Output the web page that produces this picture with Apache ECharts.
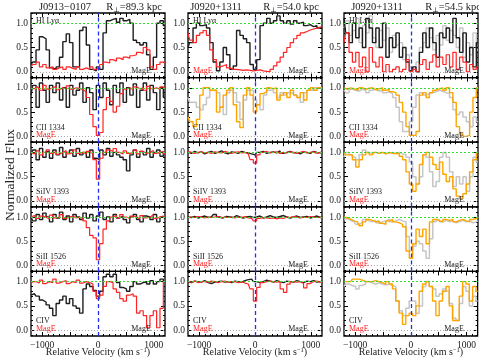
<!DOCTYPE html>
<html>
<head>
<meta charset="utf-8">
<script src="https://cdn.jsdelivr.net/npm/echarts@6/dist/echarts.min.js"></script>
<style>
  html, body { margin: 0; padding: 0; background: #fff; }
  #chart { width: 479px; height: 364px; }
</style>
</head>
<body>
<div id="chart"></div>
<script>
// velocity grid (km/s), shared by every spectrum
const vel = [-1200,-1140,-1080,-1020,-960,-900,-840,-780,-720,-660,-600,-540,-480,-420,-360,-300,-240,-180,-120,-60,0,60,120,180,240,300,360,420,480,540,600,660,720,780,840,900,960,1020,1080,1140,1200];

// J0913-0107, R=89.3 kpc
const hi1Black = [0.15,0.2,0.45,0.72,0.68,0.45,0.08,0.05,0.1,0.3,0.62,0.78,0.6,0.1,0.1,0.85,0.92,0.55,0.05,0.02,0.1,0.05,0.8,1.05,1.08,1.1,1.02,1.1,1.05,1.08,1.0,0.65,0.6,0.55,0.6,0.35,0.05,0.3,1.0,1.05,0.95];
const hi1Red = [0.1,0.15,0.2,0.1,0.15,0.08,0.1,0.05,0.08,0.1,0.05,0.1,0.07,0.05,0.1,0.05,0.08,0.05,0.1,0.05,0.08,0.15,0.2,0.18,0.25,0.22,0.28,0.25,0.3,0.28,0.33,0.35,0.4,0.38,0.5,0.45,0.1,0.05,0.15,0.2,0.18];
const cii1Black = [0.85,1.05,0.6,1.1,0.95,0.7,1.05,0.9,1.1,0.75,1.0,0.6,1.05,0.85,0.95,1.1,0.7,1.0,0.9,0.55,1.05,0.8,1.1,0.95,0.65,1.05,0.9,1.1,0.7,1.0,0.85,1.08,0.6,0.95,1.1,0.75,1.05,0.9,0.55,1.0,0.8];
const cii1Red = [1.0,0.98,1.02,0.95,1.05,0.97,1.0,1.03,0.96,1.0,0.98,1.04,0.97,1.0,0.99,0.96,0.92,0.8,0.45,0.2,0.02,0.08,0.55,0.8,0.72,0.5,0.62,0.88,0.97,1.0,0.96,1.02,0.98,1.0,0.95,1.03,0.98,1.0,0.97,1.02,0.99];
const siiv1Black = [0.95,1.05,0.85,1.08,0.9,1.02,0.88,1.05,0.95,1.1,0.9,1.0,1.05,0.92,1.08,0.95,1.0,0.9,1.05,0.88,0.85,1.05,0.95,1.08,0.92,1.0,0.95,0.9,0.85,0.62,0.95,1.05,0.9,1.02,0.95,1.08,0.9,1.0,1.05,0.92,1.0];
const siiv1Red = [1.0,0.97,1.03,0.95,1.0,1.05,0.98,1.02,0.96,1.0,1.04,0.97,1.0,1.05,0.98,1.0,0.97,1.02,0.98,0.85,0.45,0.88,1.0,1.05,1.02,1.08,1.0,0.97,1.03,0.98,1.0,1.05,0.97,1.02,0.98,1.0,1.04,0.98,1.0,1.02,0.97];
const sii1Black = [1.0,0.92,1.05,0.95,1.08,1.0,0.9,1.05,0.98,1.1,0.95,1.02,0.9,1.05,1.0,0.95,1.08,0.98,1.05,0.92,1.02,1.1,0.95,1.0,0.9,1.05,0.98,1.02,0.95,0.88,1.0,1.05,0.95,0.9,1.02,1.0,0.95,1.05,0.9,1.0,0.97];
const sii1Red = [1.0,1.03,0.97,1.02,1.0,0.96,1.04,0.98,1.0,1.05,0.97,1.0,1.02,0.98,1.0,0.97,0.92,0.78,0.62,0.57,0.12,0.45,0.75,0.92,1.0,1.03,0.98,1.05,1.0,0.97,1.02,1.0,0.96,1.03,0.98,1.0,1.04,0.97,1.0,1.02,0.98];
const civ1Black = [0.72,0.75,0.7,0.62,0.58,0.52,0.45,0.3,0.55,0.62,0.7,0.55,0.65,0.5,0.45,0.35,0.85,0.95,0.9,0.82,0.7,0.8,1.1,1.15,1.1,1.15,0.98,0.88,0.85,0.8,0.9,1.0,0.95,0.98,1.0,0.95,1.02,0.95,1.0,1.05,1.0];
const civ1Red = [0.95,1.0,0.97,1.03,0.96,1.0,0.98,1.05,0.97,1.0,1.02,0.96,1.0,0.98,1.03,0.97,1.0,0.98,0.95,0.8,0.65,0.72,0.9,1.0,0.98,0.85,0.78,0.65,0.6,0.72,0.75,0.7,0.35,0.4,0.3,0.05,0.3,0.4,0.05,0.45,1.0];

// J0920+1311, R=54.0 kpc
const hi2Black = [0.5,0.6,0.9,1.0,0.95,0.97,0.9,0.6,0.2,0.02,0.2,0.5,0.35,0.05,0.12,0.85,0.75,0.68,0.6,0.15,0.05,0.25,0.95,1.0,1.1,1.0,1.05,1.15,1.05,1.0,1.05,0.98,1.05,1.0,1.02,0.95,0.97,0.93,0.95,0.9,0.92];
const hi2Red = [0.8,0.65,0.6,0.75,0.8,0.85,0.75,0.45,0.25,0.1,0.12,0.15,0.08,0.05,0.05,0.04,0.03,0.04,0.03,0.02,0.03,0.04,0.02,0.01,0.0,0.05,0.12,0.2,0.3,0.4,0.5,0.6,0.68,0.75,0.8,0.83,0.86,0.88,0.9,0.92,0.93];
const cii2Orange = [0.4,0.3,0.2,0.35,0.85,1.0,1.0,0.95,0.95,0.5,0.6,0.85,0.95,1.0,0.65,0.3,0.18,0.85,1.0,0.85,0.5,0.65,0.88,0.92,1.0,0.98,1.0,0.75,0.85,0.9,0.8,0.95,0.85,0.8,0.9,0.75,0.95,1.0,0.95,1.0,1.0];
const cii2Grey = [0.8,0.7,0.7,0.6,0.55,0.65,0.8,0.95,0.95,0.9,0.6,0.45,0.9,0.95,0.9,0.7,0.35,0.75,0.95,0.95,0.75,0.65,0.55,0.85,0.95,0.95,0.9,0.8,0.9,0.85,0.9,0.9,0.85,0.8,0.7,0.9,0.95,0.95,1.0,1.0,0.98];
const siiv2Black = [1.0,0.98,1.02,0.99,1.01,0.97,1.0,1.02,0.98,1.0,1.03,0.99,0.97,1.01,1.0,0.98,1.02,1.0,0.99,0.97,0.95,1.0,1.02,0.98,1.0,1.01,0.99,1.03,0.98,1.0,1.02,0.99,1.0,0.97,1.01,1.0,0.98,1.02,1.0,0.99,1.01];
const siiv2Red = [1.02,1.0,0.98,1.0,1.01,0.99,1.0,0.98,1.01,1.0,0.99,1.02,1.0,0.98,1.0,1.01,0.99,1.0,0.97,0.85,0.78,0.95,1.0,1.02,0.99,1.0,1.01,0.98,1.0,0.99,1.01,1.0,0.98,1.0,1.02,0.99,1.0,1.01,0.98,1.0,0.99];
const sii2Black = [1.0,0.99,1.01,0.98,1.0,1.02,0.99,1.0,1.05,1.0,0.98,1.01,1.0,0.99,1.03,1.0,0.98,1.0,1.01,0.99,1.0,1.02,0.98,1.0,1.03,1.0,0.99,1.01,1.03,1.0,0.98,1.0,1.02,0.99,1.0,1.01,0.98,1.0,1.02,0.99,1.0];
const sii2Red = [0.98,1.0,0.99,1.01,1.0,0.98,1.0,0.99,1.0,1.01,0.98,1.0,0.99,1.0,0.98,1.0,0.99,1.01,0.98,0.97,0.92,0.97,0.99,0.98,0.97,0.98,0.96,0.98,0.97,1.0,0.99,1.01,1.0,0.98,1.0,0.99,1.01,1.0,0.99,1.0,0.98];
const civ2Black = [1.0,0.98,1.01,1.0,0.99,1.02,0.98,0.96,0.99,1.0,1.01,0.99,1.0,0.98,1.01,1.0,0.99,1.02,1.04,1.05,1.0,0.98,1.0,1.03,1.01,0.99,1.02,1.0,0.98,1.01,1.0,0.99,1.02,1.0,0.98,1.01,1.0,1.02,0.99,1.0,1.01];
const civ2Red = [1.0,0.99,1.01,0.98,1.0,1.0,0.99,1.01,1.0,0.98,1.0,1.01,0.99,1.0,1.0,0.98,1.0,0.97,0.95,0.85,0.6,0.88,0.98,1.0,1.01,1.0,0.99,1.0,0.85,0.78,0.95,1.0,0.99,1.0,0.96,0.87,0.96,1.0,1.01,0.99,1.0];

// J0920+1311, R=54.5 kpc
const hi3Black = [1.1,0.8,0.6,1.0,0.7,0.9,0.5,1.1,0.9,0.6,0.9,0.5,1.0,0.3,0.7,0.5,0.8,0.3,0.5,0.2,0.02,0.1,0.0,0.4,0.8,0.5,0.9,0.6,0.3,0.8,0.7,0.9,0.6,1.1,0.7,0.4,0.8,0.2,0.5,0.1,0.6];
const hi3Grey = [0.9,1.05,0.75,0.85,1.1,0.6,0.95,0.8,1.15,0.7,0.5,0.85,0.65,0.9,0.4,0.75,0.55,0.6,0.25,0.35,0.1,0.05,0.2,0.5,0.6,0.9,0.7,0.45,0.75,0.55,0.95,0.65,0.85,0.75,0.5,0.9,0.3,0.6,0.35,0.8,0.45];
const hi3Red = [0.6,0.8,0.4,0.2,0.4,0.1,0.3,0.0,0.5,0.2,0.1,0.3,0.0,0.15,0.0,0.05,0.1,0.0,0.05,0.25,0.0,0.05,0.0,0.15,0.25,0.05,0.2,0.35,0.1,0.3,0.15,0.35,0.1,0.4,0.05,0.3,0.2,0.0,0.15,0.05,0.1];
const cii3Orange = [1.0,0.97,1.0,0.98,0.95,1.0,0.97,0.99,1.0,0.96,0.98,1.0,0.95,0.97,0.92,0.9,0.85,0.7,0.5,0.2,0.02,0.02,0.1,0.85,0.9,0.8,0.9,0.95,0.98,1.0,0.95,1.0,0.9,0.7,0.2,0.05,0.0,0.02,0.5,0.8,1.0];
const cii3Grey = [0.95,0.9,0.97,0.95,0.93,0.97,0.95,0.9,0.95,0.97,0.93,0.95,0.9,0.92,0.88,0.8,0.6,0.3,0.1,0.1,0.3,0.6,0.85,0.9,0.85,0.88,0.9,0.92,0.95,0.93,0.9,0.88,0.8,0.55,0.45,0.5,0.4,0.3,0.2,0.4,0.3];
const siiv3Orange = [1.0,0.95,0.95,0.85,0.7,0.85,0.95,1.0,0.95,1.0,0.98,1.0,0.97,1.0,0.98,0.97,0.98,0.92,0.85,0.6,0.35,0.2,0.35,0.75,0.95,1.0,0.9,0.75,0.65,0.8,0.55,0.4,0.5,0.25,0.1,0.05,0.15,0.35,0.6,0.85,1.0];
const siiv3Grey = [0.9,1.0,0.95,0.9,0.85,0.95,1.05,1.0,0.97,1.0,0.98,1.0,0.97,0.99,1.0,0.98,1.0,0.97,0.95,0.9,0.8,0.5,0.35,0.5,0.95,0.9,0.6,0.3,0.4,0.9,1.0,0.9,0.6,0.3,0.5,0.35,0.5,0.2,0.5,0.9,0.8];
const sii3Orange = [1.0,0.98,0.95,0.92,0.9,0.82,0.9,0.95,0.93,0.9,0.92,0.87,0.85,0.92,0.95,0.9,0.88,0.85,0.8,0.3,0.15,0.45,0.75,0.6,0.75,0.45,0.9,0.95,0.92,0.9,0.95,0.93,0.95,0.9,0.93,0.95,0.92,0.9,0.95,0.97,1.0];
const sii3Grey = [0.95,0.97,0.93,0.9,0.85,0.88,0.95,0.92,0.9,0.93,0.88,0.9,0.92,0.95,0.9,0.92,0.95,0.92,0.9,0.6,0.3,0.4,0.5,0.45,0.3,0.15,0.55,0.9,0.95,0.9,0.93,0.9,0.92,0.88,0.9,0.93,0.9,0.92,0.88,0.9,0.92];
const civ3Orange = [1.0,1.0,1.0,1.05,1.05,1.03,1.0,1.0,1.0,1.02,1.0,0.98,0.95,1.0,0.95,0.85,0.6,0.35,0.12,0.3,0.35,0.3,0.5,0.8,0.95,1.0,0.9,0.6,0.3,0.6,0.8,0.9,0.5,0.2,0.2,0.7,1.0,0.95,0.6,0.9,0.8];
const civ3Grey = [0.9,0.95,0.92,0.9,0.85,0.92,0.95,1.0,0.97,0.95,0.97,0.95,0.93,0.95,0.92,0.9,0.6,0.4,0.3,0.45,0.6,0.6,0.35,0.5,0.9,1.0,0.9,0.85,0.7,0.75,0.85,0.8,0.55,0.25,0.2,0.55,0.9,0.8,0.5,0.7,0.6];

// labels and ticks
const ionNames = ['HI Ly\u03b1', 'CII 1334', 'SiIV 1393', 'SiII 1526', 'CIV'];
const qsoNames = ['J0913\u22120107', 'J0920+1311', 'J0920+1311'];
const rPerp = ['89.3', '54.0', '54.5'];
const xLabels = [-1000, 0, 1000];
const xMajor = [-1000, -500, 0, 500, 1000];
const xMinor = [-1100,-900,-800,-700,-600,-400,-300,-200,-100,100,200,300,400,600,700,800,900,1100];
const yMajor = [0, 0.5, 1];
const yMinor = [-0.1,0.1,0.2,0.3,0.4,0.6,0.7,0.8,0.9,1.1,1.2];

const BLK = '#1e1e1e', RED = '#ff2424', ORG = '#ffa500', GRY = '#c6c6c6';
const serif = '"Liberation Serif", "DejaVu Serif", serif';

// what goes in each panel: [flux, colour, width], bottom first
const panels = [
  [
    [[hi1Black, BLK, 1.4], [hi1Red, RED, 1.2]],
    [[cii1Black, BLK, 1.4], [cii1Red, RED, 1.2]],
    [[siiv1Black, BLK, 1.4], [siiv1Red, RED, 1.2]],
    [[sii1Black, BLK, 1.4], [sii1Red, RED, 1.2]],
    [[civ1Black, BLK, 1.4], [civ1Red, RED, 1.2]]
  ],
  [
    [[hi2Black, BLK, 1.4], [hi2Red, RED, 1.2]],
    [[cii2Grey, GRY, 1.5], [cii2Orange, ORG, 1.4]],
    [[siiv2Black, BLK, 1.4], [siiv2Red, RED, 1.2]],
    [[sii2Black, BLK, 1.4], [sii2Red, RED, 1.2]],
    [[civ2Black, BLK, 1.4], [civ2Red, RED, 1.2]]
  ],
  [
    [[hi3Grey, GRY, 1.4], [hi3Black, BLK, 1.4], [hi3Red, RED, 1.2]],
    [[cii3Grey, GRY, 1.5], [cii3Orange, ORG, 1.4]],
    [[siiv3Grey, GRY, 1.5], [siiv3Orange, ORG, 1.4]],
    [[sii3Grey, GRY, 1.5], [sii3Orange, ORG, 1.4]],
    [[civ3Grey, GRY, 1.5], [civ3Orange, ORG, 1.4]]
  ]
];

const colLeft = [31, 188, 344];
const panelW = 134;
const top0 = 13, rowH = 64.6;

let grids = [], xAxes = [], yAxes = [], series = [], graphics = [];

function txt(x, y, text, size, fill, align, extra) {
  return {
    type: 'text', x: x, y: y, silent: true, z: 10,
    style: Object.assign({
      text: text, fill: fill || '#222', fontSize: size, fontFamily: serif,
      align: align || 'left', verticalAlign: 'middle'
    }, extra || {})
  };
}

for (let c = 0; c < 3; c++) {
  for (let r = 0; r < 5; r++) {
    const g = grids.length;
    const L = colLeft[c], T = top0 + r * rowH;
    grids.push({ left: L, top: T, width: panelW, height: rowH, show: true, borderColor: '#000', borderWidth: 1.3 });

    // x axes: major/minor ticks on bottom and top
    [['bottom', xMajor, 4], ['top', xMajor, 4], ['bottom', xMinor, 2], ['top', xMinor, 2]].forEach((a, k) => {
      xAxes.push({
        gridIndex: g, type: 'value', min: -1200, max: 1200, position: a[0],
        axisLine: { show: false, onZero: false }, splitLine: { show: false },
        axisTick: { inside: true, length: a[2], customValues: a[1], lineStyle: { color: '#000', width: 1 } },
        axisLabel: {
          show: k === 0 && r === 4, customValues: xLabels, margin: 4,
          fontFamily: serif, fontSize: 9.5, color: '#222',
          formatter: v => (v < 0 ? '\u2212' + (-v) : String(v))
        }
      });
    });
    // y axes: major/minor ticks on left and right
    [['left', yMajor, 4], ['right', yMajor, 4], ['left', yMinor, 2], ['right', yMinor, 2]].forEach((a, k) => {
      yAxes.push({
        gridIndex: g, type: 'value', min: -0.12, max: 1.21, position: a[0],
        axisLine: { show: false, onZero: false }, splitLine: { show: false },
        axisTick: { inside: true, length: a[2], customValues: a[1], lineStyle: { color: '#000', width: 1 } },
        axisLabel: {
          show: k === 0, customValues: yMajor, margin: 3,
          fontFamily: serif, fontSize: 9.5, color: '#222',
          formatter: v => v.toFixed(1)
        }
      });
    });

    const list = panels[c][r];
    list.forEach((s, i) => {
      const item = {
        type: 'line', xAxisIndex: g * 4, yAxisIndex: g * 4,
        data: vel.map((v, j) => [v, s[0][j]]),
        step: 'middle', symbol: 'none', silent: true, animation: false,
        lineStyle: { color: s[1], width: s[2] }
      };
      if (i === list.length - 1) {
        item.markLine = {
          symbol: 'none', silent: true, animation: false, label: { show: false },
          data: [
            { yAxis: 1, lineStyle: { color: '#33dd33', type: [2, 2], width: 1 } },
            { yAxis: 0, lineStyle: { color: '#aaaaaa', type: [1, 2], width: 1 } },
            { xAxis: 0, lineStyle: { color: '#2030f0', type: [4, 3], width: 1.3 } }
          ]
        };
      }
      series.push(item);
    });

    // panel labels
    if (r === 0) {
      graphics.push(txt(L + 5, T + 7.7, ionNames[0], 8));
    } else {
      graphics.push(txt(L + 5, T + 50, ionNames[r], 8));
    }
    if (!(c === 0 && r === 0)) graphics.push(txt(L + 5, T + 57.5, 'MagE', 8, RED));
    graphics.push(txt(L + panelW - 24, T + 58, 'MagE', 8, '#222', 'center'));
  }
}

// column titles and axis names
const nameX = [65, 216, 377], rX = [134, 291, 453];
for (let c = 0; c < 3; c++) {
  graphics.push(txt(nameX[c], 7, qsoNames[c], 10.5, '#222', 'center'));
  graphics.push(txt(rX[c], 7, '{r|R}{s|\u22a5}{r|=' + rPerp[c] + ' kpc}', 10.5, '#222', 'center', {
    rich: {
      r: { fontSize: 10.5, fontFamily: serif, fill: '#222', lineHeight: 13, verticalAlign: 'middle' },
      s: { fontSize: 7, fontFamily: serif, fill: '#222', lineHeight: 7, verticalAlign: 'bottom' }
    }
  }));
  graphics.push(txt(colLeft[c] + panelW / 2, 352.5, '{a|Relative Velocity (km s}{b|\u22121}{a|)}', 10, '#222', 'center', {
    rich: {
      a: { fontSize: 10, fontFamily: serif, fill: '#222', lineHeight: 12, verticalAlign: 'middle' },
      b: { fontSize: 6.5, fontFamily: serif, fill: '#222', lineHeight: 7, verticalAlign: 'top' }
    }
  }));
}
graphics.push(Object.assign(txt(10, 175, 'Normalized Flux', 13.5, '#222', 'center'), { rotation: Math.PI / 2 }));

const myChart = echarts.init(document.getElementById('chart'), null, { renderer: 'canvas' });
myChart.setOption({
  animation: false,
  backgroundColor: '#fff',
  grid: grids,
  xAxis: xAxes,
  yAxis: yAxes,
  series: series,
  graphic: { elements: graphics }
});
</script>
</body>
</html>
